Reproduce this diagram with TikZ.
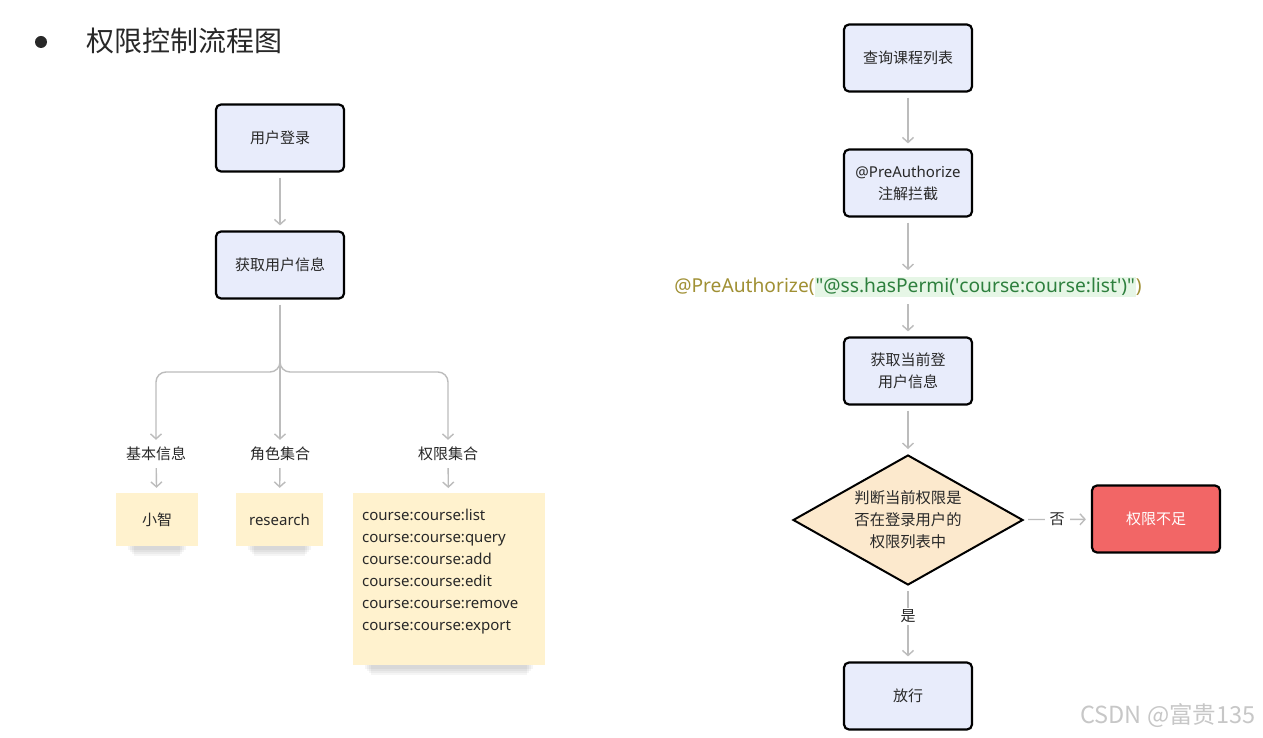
\documentclass[tikz,border=0pt]{standalone}
\usepackage{fontspec}
\setmainfont{Noto Sans}
\newfontfamily\cjk{Noto Sans CJK SC}
\definecolor{boxfill}{RGB}{232,236,251}
\definecolor{notefill}{RGB}{255,242,206}
\definecolor{decfill}{RGB}{252,233,205}
\definecolor{denyfill}{RGB}{242,102,102}
\definecolor{wire}{RGB}{188,188,188}
\definecolor{ink}{RGB}{40,40,40}
\definecolor{anno}{RGB}{160,144,52}
\definecolor{codegreen}{RGB}{46,128,62}
\definecolor{codebg}{RGB}{230,246,230}
\usetikzlibrary{arrows.meta,shapes.geometric,backgrounds}

\begin{document}
\begin{tikzpicture}[x=1pt,y=-1pt,
    flowbox/.style={draw=black,line width=2.2pt,rounded corners=5pt,fill=boxfill,
      minimum width=128pt,minimum height=67pt,align=center,text=ink,
      font=\cjk\fontsize{15}{22}\selectfont},
    note/.style={fill=notefill,minimum height=53pt,text=ink,font=\fontsize{15}{22}\selectfont},
    decision/.style={diamond,draw=black,line width=2pt,fill=decfill,aspect=1.77,
      minimum width=230pt,minimum height=130pt,inner sep=0pt,align=center,text=ink,
      font=\cjk\fontsize{15.3}{22}\selectfont},
    tag/.style={text=ink,inner sep=2pt,font=\cjk\fontsize{15}{18}\selectfont},
    conn/.style={draw=wire,line width=1.4pt,-{Straight Barb[length=5pt,width=11pt]},
      shorten <=5pt,shorten >=5pt}]
  \useasboundingbox (0,0) rectangle (1263,738);

  % title
  \node[circle,fill=ink,inner sep=0pt,minimum size=12pt] (dot) at (41,42) {};
  \node[anchor=west,text=ink,font=\cjk\fontsize{28}{32}\selectfont] (title) at (83,41) {权限控制流程图};

  % left: login and user info
  \node[flowbox] (login) at (280,138) {用户登录};
  \node[flowbox] (info) at (280,265) {获取用户信息};
  \draw[conn] (login) -- (info);

  \node[tag] (basic) at (156,454) {基本信息};
  \node[tag] (roles) at (280,454) {角色集合};
  \node[tag] (perms) at (448,454) {权限集合};

  \coordinate (split) at (280,362);
  \draw[draw=wire,line width=1.4pt,shorten <=5pt] (info) -- (split);
  \draw[conn,shorten <=0pt,rounded corners=10pt] (split) -- ++(0,10) -| (basic);
  \draw[conn,shorten <=0pt,rounded corners=10pt] (split) -- ++(0,10) -| (perms);
  \draw[conn,shorten <=0pt] (split) -- (roles);

  \node[note,minimum width=82pt] (name) at (157,519.5) {{\cjk 小智}};
  \node[note,minimum width=87pt] (role) at (279.5,519.5) {research};
  \node[note,anchor=north west,inner xsep=9pt,inner ysep=16pt] (perm) at (353,493)
    {\parbox[c][140pt][t]{174pt}{\raggedright course:course:list\\course:course:query\\
     course:course:add\\course:course:edit\\course:course:remove\\course:course:export}};
  \draw[conn] (basic) -- (name);
  \draw[conn] (roles) -- (role);
  \draw[conn] (perms) -- (perm);

  % white page and soft shadows under the notes
  \begin{scope}[on background layer]
    \fill[white] (0,0) rectangle (1263,738);
    \foreach \n in {name,role,perm}
      \foreach \k in {1,...,4}
        \fill[black,opacity=0.04] ([xshift=10pt+2*\k pt,yshift=4pt]\n.south west)
          rectangle ([xshift=-10pt-2*\k pt,yshift=-2pt-2*\k pt]\n.south east);
  \end{scope}

  % right: permission check
  \node[flowbox] (query) at (908,58) {查询课程列表};
  \node[flowbox] (intercept) at (908,183) {{\rmfamily @PreAuthorize}\\注解拦截};
  \node[inner sep=2pt,font=\fontsize{19.2}{23}\selectfont] (code) at (908,287)
    {\textcolor{anno}{@PreAuthorize(}{\setlength{\fboxsep}{1pt}\colorbox{codebg}{\textcolor{codegreen}{\textquotedbl @ss.hasPermi(\textquotesingle course:course:list\textquotesingle)\textquotedbl}}}\textcolor{anno}{)}};
  \node[flowbox] (fetch) at (908,371) {获取当前登\\用户信息};
  \node[decision] (judge) at (908,520) {判断当前权限是\\否在登录用户的\\权限列表中};
  \node[flowbox,fill=denyfill,text=white] (deny) at (1156,519) {权限不足};
  \node[flowbox] (pass) at (908,696) {放行};

  \draw[conn] (query) -- (intercept);
  \draw[conn] (intercept) -- (code);
  \draw[conn] (code) -- (fetch);
  \draw[conn] (fetch) -- (judge);
  \draw[conn] (judge) -- node[tag,fill=white,inner xsep=5pt] {否} (deny);
  \draw[conn] (judge) -- node[tag,fill=white,pos=0.4] {是} (pass);

  \node[anchor=east,text=black!22,font=\cjk\fontsize{23.5}{27}\selectfont] (mark) at (1259,716) {CSDN @富贵135};
\end{tikzpicture}
\end{document}
